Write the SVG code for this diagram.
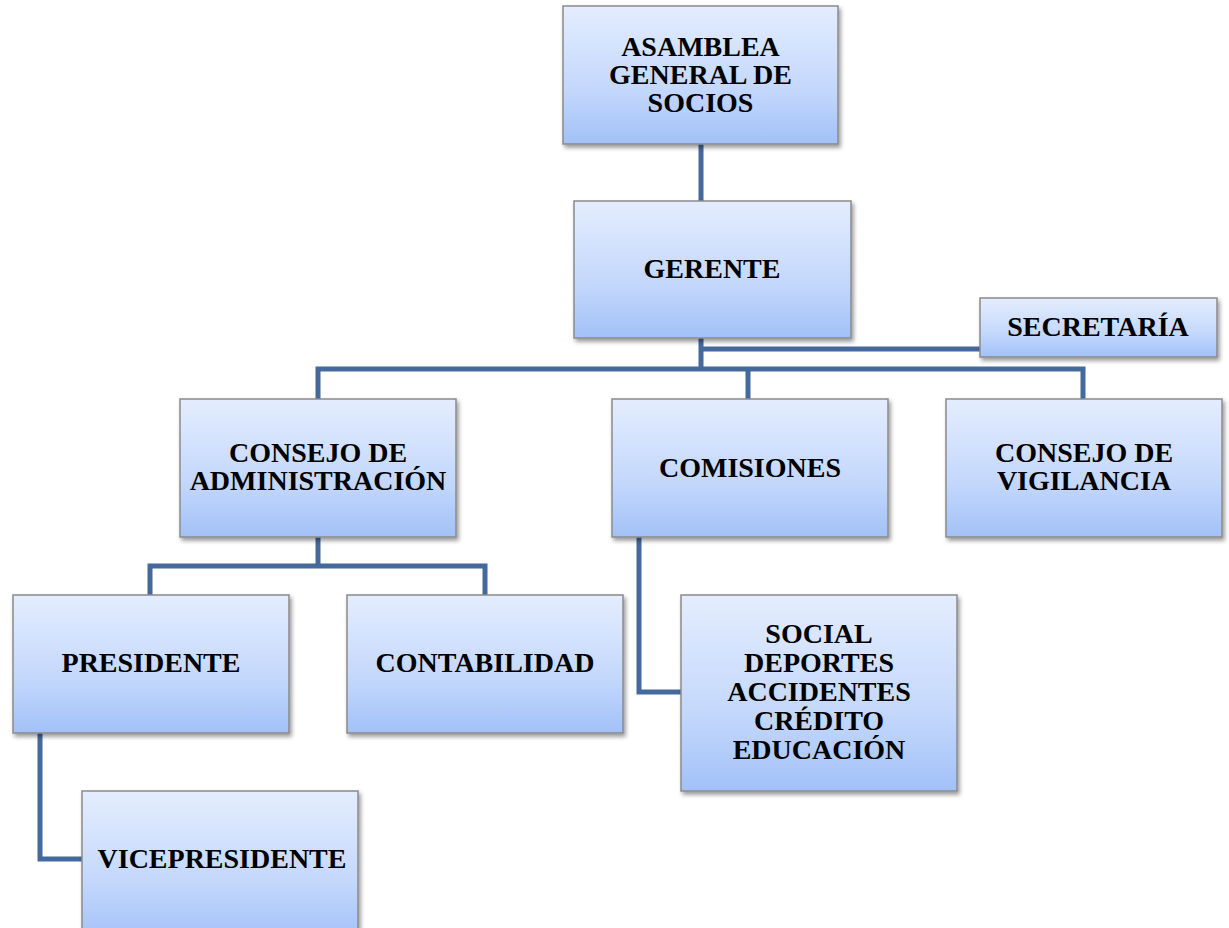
<svg xmlns="http://www.w3.org/2000/svg" width="1229" height="928" viewBox="0 0 1229 928">
<style>
.box{fill:url(#g);stroke:#8a8a8a;stroke-width:1.5;filter:url(#sh)}
.t{font-family:"Liberation Serif","Times New Roman",serif;font-weight:bold;font-size:28px;fill:#000;text-anchor:middle}
.c{fill:none;stroke:#44699d;stroke-width:5;stroke-linejoin:miter}
</style>
<defs>
<linearGradient id="g" x1="0" y1="0" x2="0" y2="1">
<stop offset="0" stop-color="#e4edfe"/>
<stop offset="0.6" stop-color="#c4d8fc"/>
<stop offset="1" stop-color="#a2c1f8"/>
</linearGradient>
<filter id="sh" x="-10%" y="-10%" width="125%" height="130%">
<feDropShadow dx="2" dy="3" stdDeviation="2" flood-color="#000" flood-opacity="0.4"/>
</filter>
</defs>
<rect width="1229" height="928" fill="#fff"/>
<g id="connectors">
<path class="c" d="M701 144V369"/>
<path class="c" d="M701 349H980"/>
<path class="c" d="M318 399V369H1083V399"/>
<path class="c" d="M748 369V399"/>
<path class="c" d="M318 537V566"/>
<path class="c" d="M150 595V566H485V595"/>
<path class="c" d="M639 537V692H681"/>
<path class="c" d="M40 733V859H82"/>
</g>
<g id="asamblea"><rect class="box" x="563" y="6" width="275" height="138"/>
<text class="t" x="700.5" y="56">ASAMBLEA</text><text class="t" x="700.5" y="84">GENERAL DE</text><text class="t" x="700.5" y="112">SOCIOS</text></g>
<g id="gerente"><rect class="box" x="574" y="201" width="277" height="137"/>
<text class="t" x="712" y="278">GERENTE</text></g>
<g id="secretaria"><rect class="box" x="980" y="298" width="237" height="59"/>
<text class="t" x="1098" y="336">SECRETARÍA</text></g>
<g id="consejo-admin"><rect class="box" x="180" y="399" width="276" height="138"/>
<text class="t" x="318" y="462">CONSEJO DE</text><text class="t" x="318" y="490">ADMINISTRACIÓN</text></g>
<g id="comisiones"><rect class="box" x="612" y="399" width="276" height="138"/>
<text class="t" x="750" y="477">COMISIONES</text></g>
<g id="consejo-vigilancia"><rect class="box" x="946" y="399" width="276" height="138"/>
<text class="t" x="1084" y="462">CONSEJO DE</text><text class="t" x="1084" y="490">VIGILANCIA</text></g>
<g id="presidente"><rect class="box" x="13" y="595" width="276" height="138"/>
<text class="t" x="151" y="672">PRESIDENTE</text></g>
<g id="contabilidad"><rect class="box" x="347" y="595" width="276" height="138"/>
<text class="t" x="485" y="672">CONTABILIDAD</text></g>
<g id="comisiones-lista"><rect class="box" x="681" y="595" width="276" height="196"/>
<text class="t" x="819" y="643">SOCIAL</text><text class="t" x="819" y="672">DEPORTES</text><text class="t" x="819" y="701">ACCIDENTES</text><text class="t" x="819" y="730">CRÉDITO</text><text class="t" x="819" y="759">EDUCACIÓN</text></g>
<g id="vicepresidente"><rect class="box" x="82" y="791" width="276" height="150"/>
<text class="t" x="222" y="868">VICEPRESIDENTE</text></g>
</svg>
